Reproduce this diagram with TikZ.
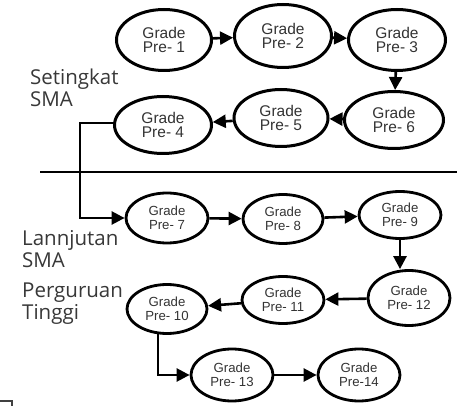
\documentclass[tikz,border=0pt]{standalone}
\usepackage{fontspec}
\setmainfont{Liberation Sans}
\newfontfamily\labelfont{Open Sans}
\usetikzlibrary{shapes.geometric,arrows.meta}
\definecolor{txt}{HTML}{333333}
\definecolor{lbl}{HTML}{383838}
\tikzset{
  gbig/.style={ellipse,draw,line width=3pt,inner sep=0pt,text=txt,align=center,
     font=\fontsize{15.5}{14.5}\selectfont},
  gsmall/.style={ellipse,draw,line width=2.8pt,inner sep=0pt,text=txt,align=center,
     font=\fontsize{13.2}{13.5}\selectfont},
  conn/.style={line width=2.6pt,-{Triangle[length=13pt,width=13pt]}},
  sidelabel/.style={anchor=base west,inner sep=0pt,text=lbl,align=left,
     font=\labelfont\fontsize{20.5}{22.5}\selectfont},
}
\begin{document}
\begin{tikzpicture}[x=1pt,y=-1pt]
\useasboundingbox (0,0) rectangle (461,406);
% row 1
\node[gbig,minimum width=95pt,minimum height=61pt] (n1) at (164,40) {Grade\\Pre- 1};
\node[gbig,minimum width=97pt,minimum height=63pt] (n2) at (283,36) {Grade\\Pre- 2};
\node[gbig,minimum width=97pt,minimum height=61pt] (n3) at (397,40) {Grade\\Pre- 3};
% row 2
\node[gbig,minimum width=99pt,minimum height=57pt] (n6) at (394,120) {Grade\\Pre- 6};
\node[gbig,minimum width=94pt,minimum height=57pt] (n5) at (281,118) {Grade\\Pre- 5};
\node[gbig,minimum width=97pt,minimum height=57pt] (n4) at (163,125) {Grade\\Pre- 4};
% row 3
\node[gsmall,minimum width=82pt,minimum height=50pt] (n7) at (167,218) {Grade\\Pre- 7};
\node[gsmall,minimum width=80pt,minimum height=49pt] (n8) at (283,219) {Grade\\Pre- 8};
\node[gsmall,minimum width=82pt,minimum height=47pt] (n9) at (400,215) {Grade\\Pre- 9};
% row 4
\node[gsmall,minimum width=82pt,minimum height=55pt] (n12) at (409,298) {Grade\\Pre- 12};
\node[gsmall,minimum width=82pt,minimum height=47pt] (n11) at (283,300) {Grade\\Pre- 11};
\node[gsmall,minimum width=80pt,minimum height=49pt] (n10) at (167,309) {Grade\\Pre- 10};
% row 5
\node[gsmall,minimum width=82pt,minimum height=52pt] (n13) at (232,375) {Grade\\Pre- 13};
\node[gsmall,minimum width=82pt,minimum height=52pt] (n14) at (359,375) {Grade\\Pre-14};
% labels (anchor at baseline of the last line)
\node[sidelabel] (l1) at (30,107) {Setingkat\\SMA};
\node[sidelabel] (l2) at (22,268) {Lannjutan\\SMA};
\node[sidelabel] (l3) at (22,320) {Perguruan\\Tinggi};
% separator
\coordinate (s1) at (40,172);
\coordinate (s2) at (457,172);
\draw[line width=2.6pt] (s1) -- (s2);
% connectors
\draw[conn] (n1) -- (n2);
\draw[conn] (n2) -- (n3);
\draw[conn] (n3) -- (n6);
\draw[conn] (n6) -- (n5);
\draw[conn] (n5) -- (n4);
\coordinate (c4) at (80,123);
\draw[conn] (n4.west |- c4) -- (c4) |- (n7.west);
\draw[conn] (n7) -- (n8);
\draw[conn] (n8) -- (n9);
\draw[conn] (n9.south) -- (n9.south |- n12.north);
\draw[conn] (n12) -- (n11);
\draw[conn] (n11) -- (n10);
\draw[conn] (n10.250) |- (n13.west);
\draw[conn] (n13) -- (n14);
% corner fragment
\coordinate (f1) at (0,401);
\coordinate (f2) at (12,401);
\coordinate (f3) at (12,406);
\draw[line width=1.8pt,black!75] (f1) -- (f2) -- (f3);
\end{tikzpicture}
\end{document}
